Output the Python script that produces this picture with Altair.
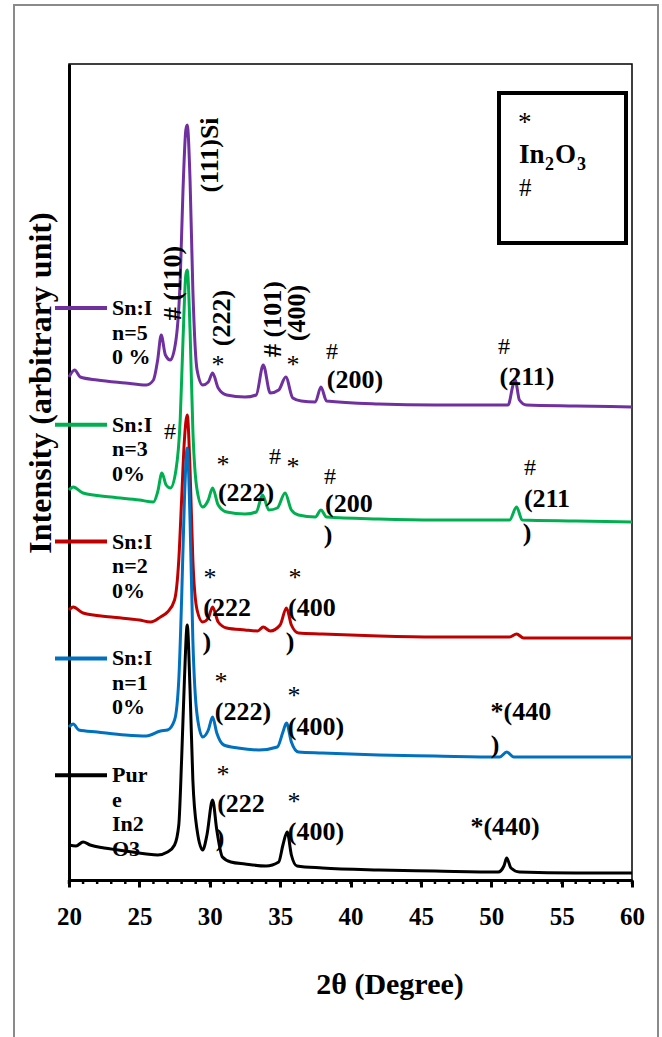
import altair as alt
import pandas as pd

FONT = "'Liberation Serif', 'Times New Roman', Times, serif"

# ---- XRD traces: 2θ (degree) and intensity (arbitrary units, stacked with offsets) ----
tt_sn50 = [20.0, 20.4, 20.8, 22.0, 24.0, 25.5, 26.0, 26.3, 26.55, 26.85, 27.2, 27.6, 27.9, 28.1, 28.3,
           28.4, 28.6, 28.8, 29.1, 29.5, 29.9, 30.2, 30.6, 31.2, 32.5, 33.3, 33.8, 34.3, 34.9, 35.4,
           35.9, 36.5, 37.5, 37.9, 38.3, 42.0, 46.0, 51.2, 51.55, 51.7, 52.0, 52.5, 56.0, 60.0]
i_sn50 = [503, 510, 503, 500, 497, 495, 500, 520, 545, 525, 520, 540, 600, 690, 750,
          755, 700, 590, 510, 495, 498, 507, 492, 485, 483, 485, 515, 487, 490, 503,
          482, 479, 478, 493, 479, 476, 475, 475, 495, 500, 480, 475, 474, 473]

tt_sn30 = [20.0, 20.3, 21.0, 23.0, 25.0, 26.0, 26.3, 26.6, 26.9, 27.2, 27.6, 27.9, 28.1, 28.3, 28.4,
           28.6, 28.8, 29.1, 29.5, 29.9, 30.2, 30.6, 31.2, 32.5, 33.3, 33.75, 34.2, 34.8, 35.35,
           35.8, 36.3, 37.5, 37.9, 38.3, 42.0, 46.0, 51.3, 51.8, 52.2, 56.0, 60.0]
i_sn30 = [390, 393, 387, 383, 380, 378, 388, 407, 395, 392, 410, 460, 540, 605, 610,
          550, 450, 390, 373, 380, 392, 375, 368, 366, 368, 385, 370, 372, 387,
          370, 365, 363, 370, 363, 361, 360, 360, 373, 360, 359, 358]

tt_sn20 = [20.0, 20.3, 21.0, 23.0, 25.0, 25.8, 26.5, 27.0, 27.5, 27.8, 28.0, 28.2, 28.4, 28.6, 28.8,
           29.1, 29.5, 29.9, 30.2, 30.6, 31.2, 32.5, 33.4, 33.8, 34.3, 35.0, 35.45, 35.8, 36.3,
           38.0, 42.0, 46.0, 51.3, 51.8, 52.3, 56.0, 60.0]
i_sn20 = [270, 273, 267, 263, 260, 258, 263, 268, 280, 320, 380, 440, 465, 410, 320,
          270, 258, 262, 273, 258, 252, 250, 249, 253, 249, 255, 272, 255, 247,
          246, 244, 243, 243, 246, 242, 242, 242]

tt_sn10 = [20.0, 20.3, 20.7, 22.0, 24.0, 25.5, 26.5, 27.0, 27.5, 27.8, 28.0, 28.2, 28.4, 28.6, 28.8,
           29.1, 29.5, 29.9, 30.2, 30.5, 31.0, 32.0, 33.5, 34.8, 35.2, 35.45, 35.8, 36.3,
           38.0, 42.0, 46.0, 50.6, 51.1, 51.6, 56.0, 60.0]
i_sn10 = [153, 156, 150, 148, 145, 144, 149, 150, 160, 200, 280, 380, 432, 360, 240,
          165, 143, 150, 163, 147, 135, 132, 130, 133, 148, 157, 138, 128,
          127, 125, 124, 123, 128, 123, 123, 123]

tt_pure = [20.0, 20.5, 21.0, 21.5, 22.5, 23.5, 24.5, 25.5, 26.3, 27.0, 27.5, 27.8, 28.0, 28.2, 28.4,
           28.6, 28.8, 29.1, 29.5, 29.8, 30.2, 30.5, 30.9, 31.5, 32.5, 34.0, 34.9, 35.2, 35.5,
           35.8, 36.2, 38.0, 42.0, 46.0, 50.5, 50.9, 51.1, 51.4, 52.0, 56.0, 60.0]
i_pure = [35, 34, 38, 35, 32, 30, 28, 26, 25, 28, 35, 55, 120, 200, 255,
          190, 100, 50, 30, 45, 80, 50, 23, 18, 16, 14, 18, 35, 48,
          25, 14, 12, 10, 9, 8, 14, 22, 12, 8, 7, 7]

# drawing order: first is drawn at the back
series_tt = [tt_sn50, tt_sn30, tt_sn20, tt_sn10, tt_pure]
series_i = [i_sn50, i_sn30, i_sn20, i_sn10, i_pure]
series_colors = ["#7030A0", "#00B050", "#C00000", "#0070C0", "#000000"]
legend_labels = [["Sn:I", "n=5", "0 %"], ["Sn:I", "n=3", "0%"], ["Sn:I", "n=2", "0%"],
                 ["Sn:I", "n=1", "0%"], ["Pur", "e", "In2", "O3"]]

# axis ticks
major_ticks = [20, 25, 30, 35, 40, 45, 50, 55, 60]
minor_ticks = list(range(20, 61))

# peak labels: (text, 2θ, intensity)
rot_labels = [("(111)Si", 30.02, 725), ("# (110)", 27.39, 597), ("(222)", 30.87, 562),
              ("# (101)", 34.49, 561), ("(400)", 36.2, 567)]
hkl_labels = [("(200)", 40.32, 500), ("(211)", 52.54, 503),
              ("(222)", 32.58, 387), ("(200", 39.89, 376), (")", 38.4, 345),
              ("(211", 53.96, 381), (")", 52.54, 347),
              ("(222", 31.23, 272), (")", 29.8, 238), ("(400", 37.26, 272), (")", 35.7, 238),
              ("(222)", 32.36, 168), ("(400)", 37.55, 153), ("*(440", 52.11, 168), (")", 50.27, 135),
              ("(222", 32.22, 76), (")", 30.73, 42), ("(400)", 37.55, 48), ("*(440)", 50.98, 53)]
star_marks = [(30.59, 520), (35.91, 520), (30.94, 420), (35.91, 418), (30.02, 307), (36.06, 307),
              (30.8, 203), (35.99, 189), (30.94, 110), (35.99, 83)]
hash_marks = [(38.69, 528), (50.9, 533), (27.18, 448), (34.64, 423), (38.54, 403), (52.75, 412)]

W, H = 563, 816
x_scale = alt.Scale(domain=[20, 60], nice=False, zero=False)
y_scale = alt.Scale(domain=[0, 816], nice=False, zero=False)
x_axis = alt.Axis(values=major_ticks, format="d", labelFont=FONT, labelFontWeight="bold",
                  labelFontSize=25, labelColor="black", labelPadding=17, labelFlush=False,
                  tickSize=7, tickWidth=3, tickColor="black", domainColor="black",
                  domainWidth=3, grid=False, title=None)
y_axis = alt.Axis(labels=False, ticks=False, grid=False, title=None,
                  domainColor="black", domainWidth=3)

layers = []

# outer grey page frame
one = pd.DataFrame({"k": [0]})
layers.append(alt.Chart(one).mark_rect(fillOpacity=0, stroke="#8a8a8a", strokeWidth=2).encode(
    x=alt.value(-55), x2=alt.value(589), y=alt.value(-59), y2=alt.value(1100)))

# minor ticks below the x axis
layers.append(alt.Chart(pd.DataFrame({"t": minor_ticks})).mark_rule(
    color="black", strokeWidth=2.5).encode(
    x=alt.X("t:Q", scale=x_scale, axis=x_axis), y=alt.value(H), y2=alt.value(H + 4)))

# diffraction traces
for tt, ii, col in zip(series_tt, series_i, series_colors):
    df = pd.DataFrame({"tt": tt, "inten": ii})
    layers.append(alt.Chart(df).mark_line(color=col, strokeWidth=3, interpolate="monotone").encode(
        x=alt.X("tt:Q", scale=x_scale, axis=x_axis),
        y=alt.Y("inten:Q", scale=y_scale, axis=y_axis)))

# peak annotations
rot_df = pd.DataFrame(rot_labels, columns=["txt", "tt", "inten"])
layers.append(alt.Chart(rot_df).mark_text(
    font=FONT, fontWeight="bold", fontSize=26, angle=270, align="center", baseline="middle",
    color="black").encode(x=alt.X("tt:Q", scale=x_scale), y=alt.Y("inten:Q", scale=y_scale),
                          text="txt:N"))
hkl_df = pd.DataFrame(hkl_labels, columns=["txt", "tt", "inten"])
layers.append(alt.Chart(hkl_df).mark_text(
    font=FONT, fontWeight="bold", fontSize=26, align="center", baseline="middle",
    color="black").encode(x=alt.X("tt:Q", scale=x_scale), y=alt.Y("inten:Q", scale=y_scale),
                          text="txt:N"))
star_df = pd.DataFrame(star_marks, columns=["tt", "inten"]).assign(txt="*")
layers.append(alt.Chart(star_df).mark_text(
    font=FONT, fontSize=26, align="center", baseline="middle", dy=5,
    color="black").encode(x=alt.X("tt:Q", scale=x_scale), y=alt.Y("inten:Q", scale=y_scale),
                          text="txt:N"))
hash_df = pd.DataFrame(hash_marks, columns=["tt", "inten"]).assign(txt="#")
layers.append(alt.Chart(hash_df).mark_text(
    font=FONT, fontSize=24, align="center", baseline="middle",
    color="black").encode(x=alt.X("tt:Q", scale=x_scale), y=alt.Y("inten:Q", scale=y_scale),
                          text="txt:N"))

# phase key box (top right)
layers.append(alt.Chart(one).mark_rect(fill="white", stroke="black", strokeWidth=4).encode(
    x=alt.value(430), x2=alt.value(557), y=alt.value(29), y2=alt.value(179)))
key_rows = [("*", 449, 59, 27, "normal", "middle"), ("#", 450, 124, 25, "normal", "middle"),
            ("In", 450, 99, 27, "bold", "alphabetic"), ("2", 476, 106, 18, "bold", "alphabetic"),
            ("O", 486, 99, 27, "bold", "alphabetic"), ("3", 508, 106, 18, "bold", "alphabetic")]
for txt, px, py, fs, fw, bl in key_rows:
    layers.append(alt.Chart(one).mark_text(
        text=txt, font=FONT, fontSize=fs, fontWeight=fw, align="left", baseline=bl,
        color="black").encode(x=alt.value(px), y=alt.value(py)))

# series key on the left: coloured line segments with wrapped labels
row_y = [244 + 116.8 * k for k in range(len(legend_labels))]
leg_df = pd.DataFrame({"ypix": row_y, "col": series_colors})
layers.append(alt.Chart(leg_df).mark_rule(strokeWidth=4).encode(
    x=alt.value(-14), x2=alt.value(38), y=alt.Y("ypix:Q", scale=None, axis=None),
    color=alt.Color("col:N", scale=None)))
txt_rows = []
for y0, lines in zip(row_y, legend_labels):
    for j, s in enumerate(lines):
        txt_rows.append({"ypix": y0 + 24.5 * j, "txt": s})
layers.append(alt.Chart(pd.DataFrame(txt_rows)).mark_text(
    font=FONT, fontWeight="bold", fontSize=22, align="left", baseline="middle",
    color="black").encode(x=alt.value(43), y=alt.Y("ypix:Q", scale=None, axis=None),
                          text="txt:N"))

# axis titles
layers.append(alt.Chart(one).mark_text(
    text="Intensity (arbitrary unit)", font=FONT, fontWeight="bold", fontSize=32, angle=270,
    align="center", baseline="middle", color="black").encode(
    x=alt.value(-28), y=alt.value(319)))
layers.append(alt.Chart(one).mark_text(
    text="2θ (Degree)", font=FONT, fontWeight="bold", fontSize=30,
    align="center", baseline="middle", color="black").encode(
    x=alt.value(321), y=alt.value(921)))

chart = alt.layer(*layers).properties(
    width=W, height=H,
    autosize=alt.AutoSizeParams(type="none"),
    padding={"left": 69, "top": 64, "right": 30, "bottom": 157},
    background="white",
).configure_view(stroke="black", strokeWidth=1.5)

chart.save("out.html", embed_options={"renderer": "svg", "actions": False})
